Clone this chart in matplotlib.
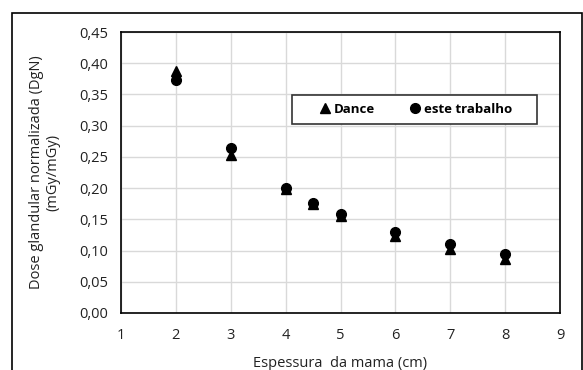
import matplotlib
matplotlib.use("Agg")
import matplotlib.pyplot as plt
from matplotlib.patches import Rectangle
from matplotlib.ticker import FuncFormatter

plt.rcParams['font.family'] = ['Open Sans', 'DejaVu Sans']

# Espessura da mama (cm)
espessura = [2, 3, 4, 4.5, 5, 6, 7, 8]
# DgN - Dance
dgn_dance = [0.388, 0.253, 0.199, 0.174, 0.155, 0.123, 0.102, 0.087]
# DgN - este trabalho
dgn_trabalho = [0.373, 0.265, 0.200, 0.176, 0.159, 0.129, 0.110, 0.094]

fig = plt.figure(figsize=(5.83, 3.70), dpi=100)
ax = fig.add_axes([121/583, 1-313/370, (560-121)/583, (313-32)/370])

# moldura externa do gráfico
fig.patches.append(Rectangle((12/583, -0.1), (582-12)/583, 1.1-13/370,
                             transform=fig.transFigure, fill=False,
                             edgecolor='black', linewidth=1.2))

ax.plot(espessura, dgn_dance, linestyle='none', marker='^', color='black',
        markersize=6.5, label='Dance', zorder=3)
ax.plot(espessura, dgn_trabalho, linestyle='none', marker='o', color='black',
        markersize=7, label='este trabalho', zorder=3)

ax.set_xlim(1, 9)
ax.set_ylim(0, 0.45)
ax.set_xticks(range(1, 10))
ax.set_yticks([i*0.05 for i in range(10)])
ax.yaxis.set_major_formatter(FuncFormatter(lambda v, p: ('%.2f' % v).replace('.', ',')))
ax.tick_params(length=0, labelsize=10.5, pad=9, colors='#222222')
ax.tick_params(axis='x', pad=11)
ax.grid(True, color='#d9d9d9', linewidth=1)
ax.set_axisbelow(True)
for s in ax.spines.values():
    s.set_color('black')
    s.set_linewidth(1.2)

ax.set_xlabel('Espessura  da mama (cm)', fontsize=10.5, labelpad=9, color='#222222')
ax.set_ylabel('Dose glandular normalizada (DgN)\n(mGy/mGy)', fontsize=10.5,
              labelpad=14, color='#222222', linespacing=1.1)

# caixa da legenda (desenhada à parte para ter a largura do original)
lx0, lx1 = (292-121)/439, (537-121)/439
ly0, ly1 = (313-124)/281, (313-95)/281
ax.add_patch(Rectangle((lx0, ly0), lx1-lx0, ly1-ly0, transform=ax.transAxes,
                       facecolor='white', edgecolor='#333333', linewidth=1.2,
                       zorder=4))
leg = ax.legend(loc='center', bbox_to_anchor=((lx0+lx1)/2, (ly0+ly1)/2),
                ncol=2, frameon=False, prop={'weight': 'bold', 'size': 9.5},
                handletextpad=0.1, columnspacing=2.4, handlelength=1.2,
                borderaxespad=0, borderpad=0)
leg.set_zorder(5)

plt.savefig('out.png', dpi=100)
